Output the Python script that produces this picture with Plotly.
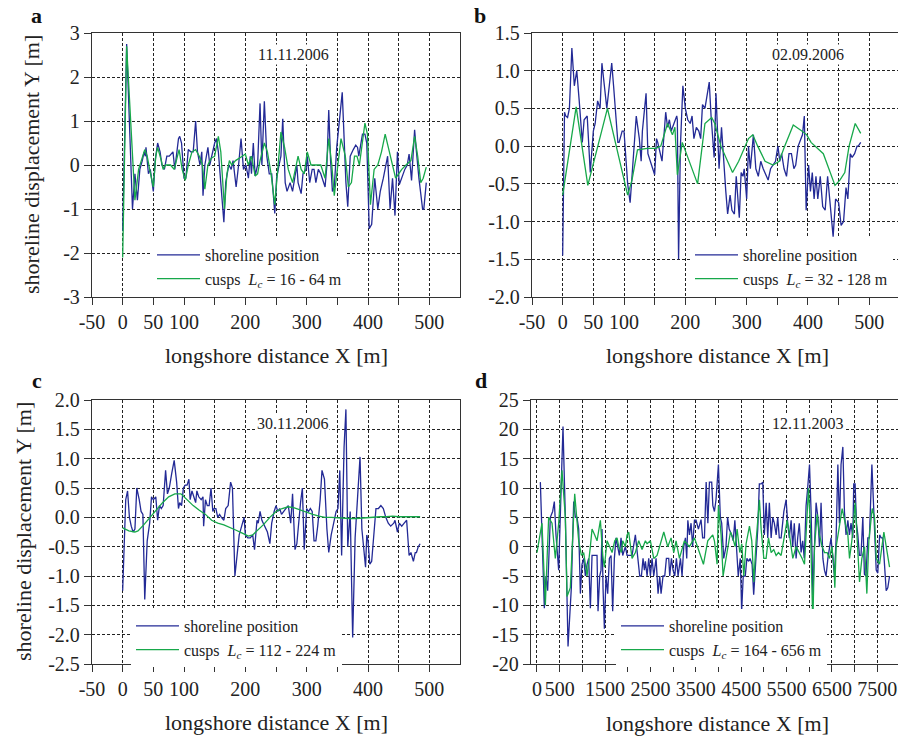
import plotly.graph_objects as go

W, H = 898, 740
FONT = "Liberation Serif"
BLUE = "#232a96"
GREEN = "#17a84a"
AXC = "#333333"

# ---------------- Panel a : 11.11.2006 ----------------
a_shore_x = [0, 6.5, 16, 20, 24, 28, 32, 35, 37, 38, 42, 45, 47, 50, 53, 57, 61, 64, 68, 72, 76, 82, 85, 91, 93, 96,
             100, 103, 107, 111, 115, 119, 122, 126, 129, 131, 134, 139, 142, 147, 150, 153, 156, 165, 168, 173, 177,
             180, 185, 189, 193, 197, 201, 205, 208, 210, 213, 216, 220, 224, 227, 231, 235, 239, 243, 248, 251, 255,
             258, 261, 265, 268, 273, 277, 281, 284, 286, 291, 294, 299, 301, 305, 309, 312, 315, 319, 323, 330, 333,
             336, 339, 342, 345, 349, 358, 361, 364, 367, 371, 376, 380, 383, 385, 391, 395, 398, 402, 406, 411, 416,
             420, 425, 432, 436, 440, 444, 448, 451, 455, 460, 464, 467, 471, 476, 479, 483, 489, 491, 495]
a_shore_y = [-1.5, 2.75, -1.0, -0.2, -0.8, -0.1, 0.1, 0.3, 0.2, 0.4, -0.2, -0.1, -0.3, -0.6, 0.1, 0.5, 0.3, 0.0, -0.1,
             0.2, 0.2, 0.3, -0.1, 0.6, 0.65, 0.5, -0.3, -0.3, 0.35, 0.3, 0.3, 1.0, 0.3, 0.0, 0.3, -0.7, 0.0, 0.4, 0.0,
             0.3, 0.5, 0.6, 0.3, -1.3, -0.4, 0.0, -0.1, 0.1, -0.5, 0.0, 0.6, -0.1, 0.0, -0.3, 0.2, -0.2, 0.5, -0.25,
             0.0, 1.4, 0.0, 1.45, 0.2, -0.2, -0.2, -1.1, -0.3, 0.0, 0.2, 1.05, -0.4, -0.6, -0.4, -0.6, -0.2, 0.0, -0.4,
             -0.65, -0.2, -0.1, 0.2, -0.4, -0.1, -0.1, -0.4, -0.1, -0.2, -0.5, 0.0, 1.25, 0.1, -0.6, -0.5, 0.4, 1.65,
             0.5, -0.4, -0.95, 0.2, 0.35, 0.45, 0.4, 0.2, 0.7, 0.7, 0.5, -1.45, -1.35, -0.3, -1.0, -0.6, -0.3, 0.2,
             -1.0, -0.3, -1.15, 0.3, -0.45, -0.3, -0.1, 0.0, 0.25, -0.35, 0.8, 0.3, -0.3, -1.0, -1.0, -0.4]
a_cusp_x = [0, 6.5, 20, 26, 36, 40, 44, 50, 54, 57, 63, 66, 70, 78, 84, 92, 97, 102, 107, 113, 119, 125, 130, 134,
            139, 144, 150, 156, 160, 166, 170, 174, 178, 184, 195, 200, 205, 210, 216, 220, 224, 231, 236, 242, 248,
            252, 258, 264, 270, 277, 281, 286, 291, 296, 301, 307, 315, 323, 330, 336, 341, 345, 350, 356, 363, 368,
            373, 378, 382, 386, 395, 399, 404, 410, 416, 422, 428, 435, 440, 445, 450, 455, 462, 470, 476, 481, 486,
            490, 495]
a_cusp_y = [-2.1, 2.7, -0.8, -0.1, 0.35, 0.2, -0.1, -0.5, 0.2, 0.4, 0.1, -0.1, 0.0, 0.0, -0.1, 0.35, -0.1, -0.35, 0.0,
            0.3, 0.35, 0.2, 0.0, -0.55, 0.0, 0.15, 0.2, 0.65, 0.3, -1.0, -0.2, 0.1, 0.0, 0.1, 0.2, 0.25, 0.0, 0.2,
            -0.25, -0.2, 0.1, 0.5, 0.3, -0.2, -0.9, -0.2, 0.75, 0.4, -0.1, -0.4, -0.1, 0.2, -0.1, -0.2, 0.3, 0.0, 0.0,
            0.0, -0.3, 0.6, 0.0, -0.7, -0.1, 0.6, 0.2, -0.5, -0.4, 0.2, 0.2, 0.0, 0.95, 0.7, -0.9, -0.1, 0.0, 0.3,
            0.7, 0.3, 0.0, -0.3, -0.2, -0.1, 0.0, 0.1, 0.65, 0.2, -0.4, -0.3, -0.05]

# ---------------- Panel b : 02.09.2006 ----------------
b_shore_x = [0, 3, 5, 8, 11, 15, 19, 23, 27, 32, 35, 40, 45, 50, 53, 57, 61, 64, 68, 72, 76, 80, 83, 90, 92, 97, 100,
             106, 110, 114, 120, 125, 128, 130, 136, 139, 141, 147, 150, 153, 155, 162, 168, 171, 174, 177, 182, 186,
             187, 189, 192, 196, 200, 204, 208, 211, 214, 218, 222, 225, 228, 232, 235, 239, 242, 245, 247, 250, 255,
             259, 263, 266, 269, 273, 276, 280, 283, 288, 291, 294, 296, 300, 303, 306, 311, 315, 319, 323, 327, 335,
             339, 343, 347, 351, 354, 357, 361, 365, 369, 373, 377, 380, 384, 391, 394, 397, 401, 404, 407, 410, 413,
             416, 420, 424, 428, 432, 437, 441, 445, 450, 454, 458, 462, 465, 469, 472, 476, 480, 482, 486]
b_shore_y = [-1.45, 0.45, 0.4, 0.38, 0.5, 1.3, 0.8, 1.0, 0.6, 0.05, 0.35, 0.4, -0.35, 0.2, 0.3, 0.6, 0.5, 1.1, 0.8,
             0.5, 0.8, 1.1, 0.8, 0.05, 0.05, 0.2, 0.2, -0.5, -0.75, -0.3, 0.4, 0.1, -0.2, 0.2, 0.7, -0.1, -0.15, -0.3,
             -0.38, 0.1, 0.05, -0.2, 0.45, 0.25, 0.35, 0.2, 0.3, 0.4, 0.35, -1.5, 0.0, 0.8, 0.5, 0.35, 0.3, 0.4, 0.1,
             0.25, 0.2, 0.1, 0.55, 0.5, 0.65, 0.85, 0.4, 0.1, -0.15, 0.7, -0.3, 0.25, -0.3, -0.6, -0.9, -0.65, -0.85,
             -0.9, -0.4, -0.95, -0.35, -0.4, -0.3, -0.7, 0.0, -0.3, 0.15, -0.3, -0.4, -0.2, -0.3, -0.45, -0.3, -0.25,
             -0.2, 0.0, -0.2, -0.1, -0.3, -0.4, -0.1, -0.1, -0.3, -0.25, 0.0, 0.15, 0.4, -0.85, -0.25, -0.6, -0.35,
             -0.7, -0.4, -0.7, -0.4, -0.8, -0.85, -0.4, -0.9, -1.2, -0.7, -0.75, -1.05, -1.0, -0.55, -0.7, -0.1,
             -0.15, -0.1, 0.0, 0.0, 0.05, -0.1]
b_cusp_x = [0, 22, 41, 73, 106, 113, 122, 138, 152, 160, 171, 179, 183, 187, 195, 220, 232, 243, 248, 258, 277, 287,
            303, 310, 318, 330, 343, 353, 362, 376, 390, 398, 405, 425, 444, 452, 460, 467, 477, 483, 486]
b_cusp_y = [-0.65, 0.52, -0.52, 0.5, -0.65, -0.45, -0.05, -0.03, -0.03, 0.0, 0.3, 0.15, 0.25, -0.38, 0.05, -0.5, 0.3,
            0.38, 0.3, 0.0, -0.35, -0.2, 0.1, 0.15, 0.0, -0.2, -0.25, -0.2, 0.0, 0.28, 0.2, 0.15, 0.05, -0.1, -0.52,
            -0.45, -0.35, 0.0, 0.3, 0.2, 0.17]

# ---------------- Panel c : 30.11.2006 ----------------
c_shore_x = [0, 3, 5, 8, 11, 14, 17, 20, 23, 27, 30, 33, 36, 40, 44, 47, 50, 54, 57, 60, 63, 66, 70, 73, 76, 80, 84,
             88, 91, 93, 96, 99, 102, 105, 108, 110, 113, 116, 119, 121, 124, 128, 131, 132, 135, 138, 141, 144, 147,
             149, 152, 155, 158, 161, 165, 168, 172, 176, 179, 183, 187, 190, 194, 198, 200, 204, 208, 212, 215, 219,
             221, 224, 227, 232, 236, 240, 243, 247, 250, 253, 256, 259, 262, 266, 270, 274, 277, 281, 284, 288, 290,
             293, 296, 300, 303, 306, 309, 312, 315, 318, 322, 325, 329, 333, 336, 340, 344, 348, 351, 354, 357, 361,
             364, 367, 371, 375, 379, 387, 390, 393, 396, 398, 400, 403, 406, 413, 417, 421, 425, 429, 433, 437, 442,
             444, 448, 451, 455, 459, 463, 467, 470, 474, 477, 479, 482, 485]
c_shore_y = [-1.25, -0.2, 0.3, 0.45, 0.0, -0.15, -0.25, -0.2, 0.5, 0.3, 0.1, 0.05, -1.4, -0.4, -0.1, 0.35, 0.3, 0.35,
             -0.05, 0.2, 0.15, 0.2, 0.8, 0.4, 0.5, 0.75, 0.97, 0.6, 0.15, 0.25, 0.2, 0.5, 0.55, 0.55, 0.65, 0.3, 0.45,
             0.35, 0.25, 0.45, 0.35, 0.3, 0.35, -0.15, 0.3, 0.2, 0.2, 0.5, 0.1, 0.15, 0.15, 0.0, 0.05, 0.0, -0.05,
             0.15, 0.2, 0.6, 0.5, -1.0, -0.6, -0.3, -0.15, 0.0, -0.3, -0.35, -0.35, -0.3, -0.55, -0.05, -0.1, 0.1,
             -0.05, -0.15, -0.25, -0.45, -0.1, 0.1, 0.2, 0.1, 0.15, 0.05, 0.1, 0.15, 0.2, -0.1, 0.4, -0.55, -0.45,
             0.1, 0.25, 0.5, -0.55, 0.15, 0.1, 0.15, 0.1, -0.4, -0.4, -0.15, 0.3, 0.8, 0.65, -0.2, -0.6, -0.3, -0.1,
             0.1, 0.15, 0.8, -0.65, 1.2, 1.84, -0.5, 0.1, -2.05, -0.35, 1.03, -0.2, -0.55, -0.85, -0.3, -0.4, -0.8,
             -0.75, 0.15, 0.15, 0.2, 0.15, 0.0, -0.1, -0.15, -0.1, -0.05, -0.25, -0.1, -0.15, -0.1, -0.05, -0.65,
             -0.6, -0.75, -0.6, -0.6, -0.5, -0.45]
c_cusp_x = [0, 10, 20, 25, 35, 45, 55, 65, 75, 85, 95, 105, 115, 125, 135, 145, 155, 165, 175, 185, 195, 205, 212, 220,
            230, 240, 250, 260, 270, 280, 290, 300, 310, 320, 330, 340, 350, 360, 370, 380, 390, 400, 410, 420, 430,
            440, 450, 460, 470, 485]
c_cusp_y = [-0.18, -0.23, -0.25, -0.23, -0.12, 0.0, 0.12, 0.25, 0.35, 0.4, 0.4, 0.3, 0.2, 0.12, 0.05, -0.05, -0.1,
            -0.13, -0.17, -0.22, -0.27, -0.32, -0.3, -0.22, -0.12, 0.0, 0.1, 0.15, 0.18, 0.16, 0.12, 0.08, 0.05, 0.02,
            0.0, 0.0, -0.01, -0.01, -0.02, -0.02, -0.01, 0.0, 0.0, 0.01, 0.01, 0.02, 0.01, 0.01, 0.01, 0.01]

# ---------------- Panel d : 12.11.2003 ----------------
d_shore_x = [74, 125, 162, 198, 235, 294, 345, 382, 419, 478, 515, 573, 625, 684, 757, 809, 845, 882, 919, 956, 992,
             1029, 1066, 1103, 1139, 1176, 1213, 1264, 1323, 1345, 1382, 1411, 1433, 1455, 1485, 1521, 1558, 1595,
             1632, 1668, 1705, 1742, 1779, 1815, 1852, 1889, 1948, 1985, 2021, 2095, 2168, 2227, 2264, 2301, 2337,
             2367, 2389, 2426, 2462, 2499, 2536, 2573, 2624, 2668, 2705, 2734, 2778, 2815, 2852, 2903, 2925, 2962,
             2999, 3036, 3072, 3109, 3161, 3197, 3234, 3271, 3300, 3324, 3360, 3395, 3430, 3470, 3505, 3557, 3615,
             3650, 3690, 3728, 3765, 3800, 3850, 3875, 3910, 3945, 3998, 4040, 4070, 4115, 4165, 4200, 4235, 4290,
             4325, 4360, 4405, 4435, 4480, 4510, 4545, 4590, 4625, 4665, 4695, 4740, 4775, 4830, 4865, 4900, 4940,
             4975, 5010, 5050, 5085, 5120, 5160, 5195, 5230, 5270, 5305, 5340, 5380, 5440, 5490, 5525, 5560, 5600,
             5635, 5670, 5710, 5745, 5780, 5820, 5855, 5890, 5930, 5965, 6005, 6040, 6080, 6115, 6150, 6190, 6225,
             6260, 6300, 6335, 6370, 6410, 6445, 6480, 6520, 6555, 6590, 6630, 6665, 6700, 6740, 6775, 6810, 6850,
             6885, 6920, 6960, 6980, 7010, 7040, 7070, 7105, 7140, 7180, 7215, 7250, 7290, 7325, 7380, 7425, 7475,
             7510, 7550, 7585, 7620, 7695, 7730, 7770]
d_shore_y = [11, 0, -10.5, -5, -7.5, 5, 6, 7.7, 2, -4, 5, 20.5, 5, -17, -7, 7.7, 5, 5, 3, -8, -3, -2, -5, -3, -2, -10.5,
             -1.5, -1.5, -1.5, -11, -5, -4, 3, -7, -14, -5, -8, -2, -1.5, -11, -2, 1.5, 0, -1.5, 1.5, -1.5, 0, -1.5,
             -1.5, -1.5, 2, -2.5, -5, -5, -2, -4, -2.5, -5, -2, -5, -2, -5, -2, -8, -5, -8, -5, -5, -2, -2, -5, -2, -4,
             -5, -2, -5, -2, -5, 0, 1.5, -2, 4.5, 2, 4, 0, 4.5, 4.5, 3, 4.6, 1.5, 1.5, 11, 4, 11, 11, 7, 6, 8, 14, 5,
             4, -2, 0, 5, 3, 2, 1, 4.5, -2, -5, -2, -11, -5, -5, -2, -2.5, -2, -3, -8.2, 0, 3, 10.7, 10.7, 11, 2, 7.5,
             1.5, 7.5, 1.5, 5, 4, 2, 5, 1.5, 1.5, 6, 8, 4, 1.5, 4.5, 0, 4, -2, 1.5, 4, -1, 1, -2, 7, 10, 14, 6, -8.3,
             0, 7.5, 5, 0, 7.5, -2, -4, -5, -2, 0, 1.5, -2, -5, 1, 14, 4, 14, 17, 6, 2, 4.5, 2, 4, 1.5, 10.7, 10.7, 4,
             2, -1.5, -1.5, 5, -4.7, -5, 1.5, 1.5, 14, 4, -4, -4.5, 2, 1.5, 1.5, -7.5, -7, -5]
d_cusp_x = [0, 110, 184, 257, 331, 404, 478, 551, 625, 662, 735, 831, 919, 978, 1029, 1103, 1176, 1213, 1272, 1323,
            1397, 1448, 1485, 1544, 1602, 1654, 1713, 1764, 1801, 1860, 1889, 1948, 1985, 2021, 2095, 2168, 2242,
            2315, 2389, 2426, 2499, 2573, 2646, 2794, 2881, 2955, 3014, 3065, 3139, 3249, 3359, 3470, 3580, 3668,
            3763, 3873, 3910, 3969, 3998, 4057, 4101, 4168, 4263, 4315, 4366, 4410, 4469, 4513, 4557, 4608, 4682,
            4733, 4778, 4829, 4902, 4939, 4998, 5049, 5101, 5160, 5218, 5270, 5321, 5380, 5512, 5564, 5637, 5711,
            5784, 5843, 5895, 5983, 6027, 6078, 6115, 6174, 6225, 6284, 6336, 6394, 6446, 6497, 6541, 6563, 6593,
            6630, 6725, 6791, 6850, 6887, 6938, 7012, 7056, 7107, 7159, 7218, 7269, 7313, 7387, 7438, 7475, 7549,
            7644, 7769]
d_cusp_y = [-1, 4, -10, 5, 4, -2, 4, 13, 5, -8.5, -7, 9, 1, -1.5, -1, -5, 0, 3, 2, 1, 4.5, -1.5, -3.5, 1, 0, -1, 1,
            1.5, 0, -1, 1, 0, 2, 2.5, -2, -1, 1, -0.5, 1, 0.5, 1, -2, -1.5, 2.5, 0, 1.5, -1, 1, -2, 1, 0, 1.5, -1, -3,
            1, 2, 1, -3, 7, 2, -5, -2, 2.5, 1.5, 0, 3, -1, 0.5, -5, 0.5, 3.5, 1, -6, 1, 8, 3, -2, -2, 1.5, -1, -0.5,
            -1.5, -1, -1.5, 4.5, 2, -2, 0, -1, -2, -3, 10, 3, -13.3, 0, 5.5, 2, 0, -1, -1, -2, 0, -3, -7, 0, 2, 6.5,
            4, 2, -2, 1, 7.5, 1, -6, -2, 0, -8, 1, 6.5, 5, -2, -3, 2.5, -3.5]

# ---------------- Ticks / labels ----------------
xt_small = [-50, 0, 50, 100, 200, 300, 400, 500]
xt_small_txt = ["-50", "0", "50", "100", "200", "300", "400", "500"]
xt_small_minor = [150, 250, 350, 450]
xt_d = [0, 500, 1500, 2500, 3500, 4500, 5500, 6500, 7500]
xt_d_txt = ["0", "500", "1500", "2500", "3500", "4500", "5500", "6500", "7500"]
xt_d_minor = [1000, 2000, 3000, 4000, 5000, 6000, 7000]
yt_a = [-3, -2, -1, 0, 1, 2, 3]
yt_a_txt = ["-3", "-2", "-1", "0", "1", "2", "3"]
yt_b = [-2.0, -1.5, -1.0, -0.5, 0.0, 0.5, 1.0, 1.5]
yt_b_txt = ["-2.0", "-1.5", "-1.0", "-0.5", "0.0", "0.5", "1.0", "1.5"]
yt_c = [-2.5, -2.0, -1.5, -1.0, -0.5, 0.0, 0.5, 1.0, 1.5, 2.0]
yt_c_txt = ["-2.5", "-2.0", "-1.5", "-1.0", "-0.5", "0.0", "0.5", "1.0", "1.5", "2.0"]
yt_d = [-20, -15, -10, -5, 0, 5, 10, 15, 20, 25]
yt_d_txt = ["-20", "-15", "-10", "-5", "0", "5", "10", "15", "20", "25"]

dates = ["11.11.2006", "02.09.2006", "30.11.2006", "12.11.2003"]
cusp_labels = ["16 - 64 m", "32 - 128 m", "112 - 224 m", "164 - 656 m"]
letters = ["a", "b", "c", "d"]


def fx(p):
    return p / W


def fy(p):
    return 1 - p / H


panels = [
    dict(sx=a_shore_x, sy=a_shore_y, cx=a_cusp_x, cy=a_cusp_y, px=(92, 460), py=(33, 297),
         xr=[-50, 550], xt=xt_small, xtt=xt_small_txt, xm=xt_small_minor, yr=[-3, 3], yt=yt_a, ytt=yt_a_txt,
         ymirror=True, leg=(152, 238), date=(293, 54.5), letter=(36, 15), xtitle=(276, 355), ytitle=(31, 165)),
    dict(sx=b_shore_x, sy=b_shore_y, cx=b_cusp_x, cy=b_cusp_y, px=(532, 898), py=(33, 297),
         xr=[-50, -50 + 366 / 0.6133], xt=xt_small, xtt=xt_small_txt, xm=xt_small_minor, yr=[-2, 1.5], yt=yt_b,
         ytt=yt_b_txt, ymirror=False, leg=(690, 238), date=(808, 54.5), letter=(480, 15), xtitle=(717, 355),
         ytitle=None),
    dict(sx=c_shore_x, sy=c_shore_y, cx=c_cusp_x, cy=c_cusp_y, px=(92, 460), py=(400, 664),
         xr=[-50, 550], xt=xt_small, xtt=xt_small_txt, xm=xt_small_minor, yr=[-2.5, 2.0], yt=yt_c, ytt=yt_c_txt,
         ymirror=True, leg=(131, 609), date=(292, 423.5), letter=(37, 380), xtitle=(276, 722), ytitle=(23, 532)),
    dict(sx=d_shore_x, sy=d_shore_y, cx=d_cusp_x, cy=d_cusp_y, px=(531, 898), py=(400, 664),
         xr=[-132, -132 + 367 / 0.04538], xt=xt_d, xtt=xt_d_txt, xm=xt_d_minor, yr=[-20, 25], yt=yt_d,
         ytt=yt_d_txt, ymirror=False, leg=(616, 609), date=(807, 423.5), letter=(481, 380), xtitle=(717, 723),
         ytitle=None),
]

fig = go.Figure()
annotations = []
layout = {}

grid = dict(showgrid=True, gridcolor="#222222", gridwidth=1, griddash="3px,2px")
for i, p in enumerate(panels):
    n = "" if i == 0 else str(i + 1)
    legname = "legend" + n
    fig.add_trace(go.Scatter(x=p["sx"], y=p["sy"], mode="lines", name="shoreline position",
                             line=dict(color=BLUE, width=1.3), xaxis="x" + n, yaxis="y" + n,
                             legend=legname, hoverinfo="skip"))
    fig.add_trace(go.Scatter(x=p["cx"], y=p["cy"], mode="lines",
                             name="cusps\u00a0 <i>L<sub>c</sub></i> = " + cusp_labels[i],
                             line=dict(color=GREEN, width=1.3), xaxis="x" + n, yaxis="y" + n,
                             legend=legname, hoverinfo="skip"))
    common = dict(showline=True, linecolor=AXC, linewidth=1.3, ticks="outside", ticklen=7, tickwidth=1.2,
                  tickcolor=AXC, zeroline=False, tickmode="array", automargin=False,
                  tickfont=dict(family=FONT, size=20, color="#222222"), **grid)
    layout["xaxis" + n] = dict(common, domain=[fx(p["px"][0]), fx(p["px"][1])], range=p["xr"],
                               tickvals=p["xt"], ticktext=p["xtt"], anchor="y" + n, mirror=True,
                               minor=dict(tickmode="array", tickvals=p["xm"], ticks="outside", ticklen=7,
                                          tickwidth=1.2, tickcolor=AXC, **grid))
    layout["yaxis" + n] = dict(common, domain=[fy(p["py"][1]), fy(p["py"][0])], range=p["yr"],
                               tickvals=p["yt"], ticktext=p["ytt"], anchor="x" + n, mirror=p["ymirror"],
                               ticklabelstandoff=0)
    layout[legname] = dict(x=fx(p["leg"][0]), y=fy(p["leg"][1]), xanchor="left", yanchor="top",
                           xref="paper", yref="paper", bgcolor="white", borderwidth=0, itemwidth=43,
                           tracegroupgap=0, font=dict(family=FONT, size=16, color="#222222"))
    annotations.append(dict(text=dates[i], x=fx(p["date"][0]), y=fy(p["date"][1]), xref="paper", yref="paper",
                            showarrow=False, xanchor="center", yanchor="middle", bgcolor="white", borderpad=1,
                            font=dict(family=FONT, size=16, color="#222222")))
    annotations.append(dict(text="<b>" + letters[i] + "</b>", x=fx(p["letter"][0]), y=fy(p["letter"][1]),
                            xref="paper", yref="paper", showarrow=False, xanchor="center", yanchor="middle",
                            font=dict(family=FONT, size=22, color="#111111")))
    annotations.append(dict(text="longshore distance X [m]", x=fx(p["xtitle"][0]), y=fy(p["xtitle"][1]),
                            xref="paper", yref="paper", showarrow=False, xanchor="center", yanchor="middle",
                            font=dict(family=FONT, size=22, color="#222222")))
    if p["ytitle"] is not None:
        annotations.append(dict(text="shoreline displacement Y [m]", x=fx(p["ytitle"][0]), y=fy(p["ytitle"][1]),
                                xref="paper", yref="paper", showarrow=False, xanchor="center", yanchor="middle",
                                textangle=-90, font=dict(family=FONT, size=22, color="#222222")))

fig.update_layout(width=W, height=H, margin=dict(l=0, r=0, t=0, b=0), paper_bgcolor="white",
                  plot_bgcolor="white", showlegend=True, annotations=annotations,
                  font=dict(family=FONT, color="#222222"), **layout)

# remove the default 8px page margin so the 898x740 figure fills the window exactly
fig.write_html("out.html", config={"displayModeBar": False},
               post_script="document.body.style.margin='0px';")
